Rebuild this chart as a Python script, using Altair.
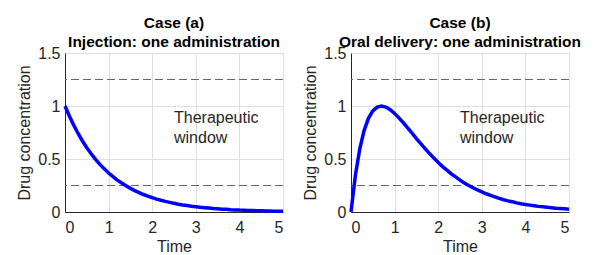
import altair as alt
import pandas as pd

time = [round(i * 0.1, 1) for i in range(51)]

conc_a = [1.000, 0.905, 0.819, 0.741, 0.670, 0.607, 0.549, 0.497, 0.449, 0.407,
          0.368, 0.333, 0.301, 0.273, 0.247, 0.223, 0.202, 0.183, 0.165, 0.150,
          0.135, 0.122, 0.111, 0.100, 0.091, 0.082, 0.074, 0.067, 0.061, 0.055,
          0.050, 0.045, 0.041, 0.037, 0.033, 0.030, 0.027, 0.025, 0.022, 0.020,
          0.018, 0.017, 0.015, 0.014, 0.012, 0.011, 0.010, 0.009, 0.008, 0.007,
          0.007]

conc_b = [0.000, 0.344, 0.593, 0.768, 0.884, 0.954, 0.990, 1.000, 0.990, 0.965,
          0.930, 0.888, 0.842, 0.794, 0.744, 0.693, 0.645, 0.598, 0.551, 0.510,
          0.467, 0.428, 0.395, 0.360, 0.331, 0.301, 0.274, 0.250, 0.229, 0.208,
          0.190, 0.172, 0.157, 0.143, 0.128, 0.116, 0.105, 0.097, 0.086, 0.078,
          0.071, 0.065, 0.059, 0.053, 0.049, 0.044, 0.040, 0.036, 0.033, 0.030,
          0.027]

window_limits = [0.25, 1.25]
label_pos = {"x": 2.5, "y": 0.89}
titles = [["Case (a)", "Injection: one administration"],
          ["Case (b)", "Oral delivery: one administration"]]

FONT = "Liberation Sans"
W, H = 218, 159
FS = 16


def panel(conc, title):
    df = pd.DataFrame({"t": time, "c": conc})
    xs = alt.Scale(domain=[0, 5], nice=False)
    ys = alt.Scale(domain=[0, 1.5], nice=False)
    xax = alt.Axis(values=[0, 1, 2, 3, 4, 5], grid=True, gridColor="#dfdfdf",
                   ticks=False, labelPadding=7, titlePadding=3,
                   domainColor="#262626", labelColor="#262626", titleColor="#262626",
                   labelFontSize=FS, titleFontSize=FS, labelFont=FONT, titleFont=FONT,
                   titleFontWeight="normal", format="d")
    yax = alt.Axis(values=[0, 0.5, 1, 1.5], grid=True, gridColor="#dfdfdf",
                   ticks=False, labelPadding=5, titlePadding=5,
                   domainColor="#262626", labelColor="#262626", titleColor="#262626",
                   labelFontSize=FS, titleFontSize=FS, labelFont=FONT, titleFont=FONT,
                   titleFontWeight="normal",
                   labelExpr="datum.value == 0 ? '0' : datum.value == 1 ? '1' : datum.label")
    line = alt.Chart(df).mark_line(color="#0000ff", strokeWidth=3.5).encode(
        x=alt.X("t:Q", scale=xs, axis=xax, title="Time"),
        y=alt.Y("c:Q", scale=ys, axis=yax, title="Drug concentration"),
    )
    rules = alt.Chart(pd.DataFrame({"y": window_limits})).mark_rule(
        color="#666666", strokeDash=[8, 4], strokeWidth=1.2
    ).encode(y=alt.Y("y:Q", scale=ys))
    txt = alt.Chart(pd.DataFrame([label_pos])).mark_text(
        text=["Therapeutic", "window"], align="left", baseline="middle",
        font=FONT, fontSize=FS, lineHeight=20, color="#262626"
    ).encode(x=alt.X("x:Q", scale=xs), y=alt.Y("y:Q", scale=ys))
    return alt.layer(rules, line, txt).properties(
        width=W, height=H,
        title=alt.TitleParams(text=title, font=FONT, fontSize=15.5, fontWeight="bold",
                              color="black", lineHeight=19, offset=-5, anchor="middle"),
    )


chart = alt.hconcat(panel(conc_a, titles[0]), panel(conc_b, titles[1]), spacing=11).properties(
    padding={"left": 8, "top": 7, "right": 5, "bottom": 0}
).configure_view(stroke="#262626", strokeWidth=1).configure(background="white")

chart.save("out.html", embed_options={"renderer": "svg", "actions": False})
